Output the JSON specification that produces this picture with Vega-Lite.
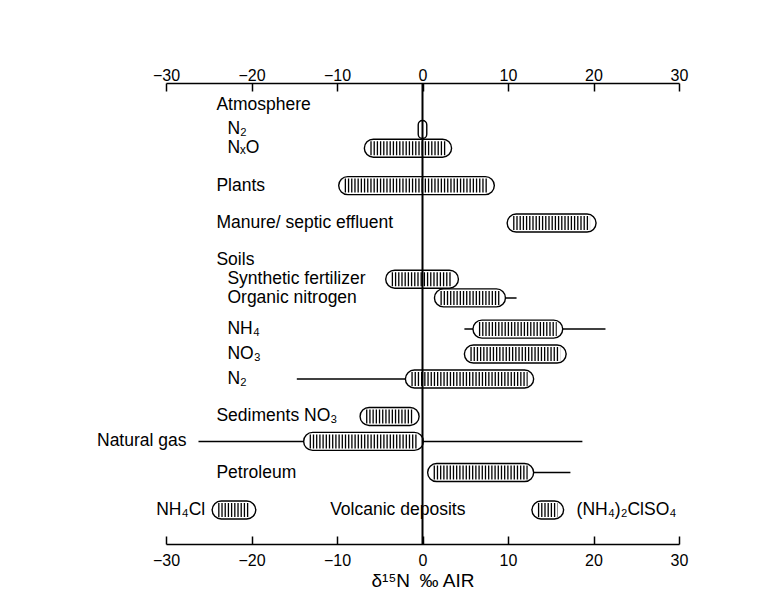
{
  "$schema": "https://vega.github.io/schema/vega-lite/v6.json",
  "width": 513,
  "height": 461,
  "autosize": {"type": "none"},
  "padding": {"left": 166, "top": 83, "right": 97, "bottom": 63},
  "background": "white",
  "config": {"view": {"stroke": null}, "font": "Liberation Sans"},
  "data": {
    "values": [
      {"row": "Atmosphere", "label": "Atmosphere"},
      {"row": "Atmosphere N₂", "label": "N₂", "group": "Atmosphere", "lo": -0.5, "hi": 0.5, "min": -0.5, "max": 0.5},
      {"row": "NₓO", "label": "NₓO", "group": "Atmosphere", "lo": -6.8, "hi": 3.4, "min": -6.8, "max": 3.4},
      {"row": "Plants", "label": "Plants", "lo": -9.8, "hi": 8.4, "min": -9.8, "max": 8.4},
      {"row": "Manure/ septic effluent", "label": "Manure/ septic effluent", "lo": 9.9, "hi": 20.3, "min": 9.9, "max": 20.3},
      {"row": "Soils", "label": "Soils"},
      {"row": "Synthetic fertilizer", "label": "Synthetic fertilizer", "group": "Soils", "lo": -4.3, "hi": 4.2, "min": -4.3, "max": 4.2},
      {"row": "Organic nitrogen", "label": "Organic nitrogen", "group": "Soils", "lo": 1.4, "hi": 9.7, "min": 1.4, "max": 11.0},
      {"row": "NH₄", "label": "NH₄", "group": "Soils", "lo": 5.9, "hi": 16.4, "min": 4.9, "max": 21.4},
      {"row": "NO₃", "label": "NO₃", "group": "Soils", "lo": 4.9, "hi": 16.8, "min": 4.9, "max": 16.8},
      {"row": "Soils N₂", "label": "N₂", "group": "Soils", "lo": -2.0, "hi": 13.0, "min": -14.7, "max": 13.0},
      {"row": "Sediments NO₃", "label": "Sediments NO₃", "lo": -7.3, "hi": -0.4, "min": -7.3, "max": -0.4},
      {"row": "Natural gas", "label": "Natural gas", "lo": -13.9, "hi": 0.1, "min": -26.2, "max": 18.7},
      {"row": "Petroleum", "label": "Petroleum", "lo": 0.6, "hi": 13.0, "min": 0.6, "max": 17.3},
      {"row": "Volcanic deposits", "label": "Volcanic deposits"},
      {"row": "Volcanic deposits", "label": "NH₄Cl", "group": "Volcanic deposits", "lo": -24.6, "hi": -19.5, "min": -24.6, "max": -19.5},
      {"row": "Volcanic deposits", "label": "(NH₄)₂ClSO₄", "group": "Volcanic deposits", "lo": 12.8, "hi": 16.5, "min": 12.8, "max": 16.5}
    ]
  },
  "resolve": {"axis": {"x": "independent"}},
  "layer": [
    {
      "transform": [{"filter": "isValid(datum.lo)"}],
      "mark": {"type": "rule", "strokeWidth": 1.5, "color": "black"},
      "encoding": {
        "x": {"field": "min", "type": "quantitative", "scale": {"domain": [-30, 30], "nice": false, "zero": false},
          "axis": {"orient": "top", "values": [-30, -20, -10, 0, 10, 20, 30], "title": null, "grid": false, "domainColor": "black", "domainWidth": 1.5, "tickColor": "black", "tickWidth": 1.5, "tickSize": -8, "labelPadding": 8, "labelFontSize": 16, "labelColor": "black", "labelFont": "Liberation Sans", "labelFlush": false, "labelOverlap": false, "labelBound": false}},
        "x2": {"field": "max"},
        "y": {"field": "row", "type": "nominal", "axis": null, "scale": {"type": "point", "padding": 0.45, "domain": ["_0","_1","_2","Atmosphere","_4","_5","_6","Atmosphere N₂","_8","_9","NₓO","_11","_12","_13","_14","_15","Plants","_17","_18","_19","_20","_21","Manure/ septic effluent","_23","_24","_25","_26","_27","Soils","_29","_30","Synthetic fertilizer","_32","_33","Organic nitrogen","_35","_36","_37","_38","NH₄","_40","_41","_42","NO₃","_44","_45","_46","Soils N₂","_48","_49","_50","_51","_52","Sediments NO₃","_54","_55","_56","Natural gas","_58","_59","_60","_61","Petroleum","_63","_64","_65","_66","_67","Volcanic deposits","_69","_70","_71","_72","_73"]}}
      }
    },
    {
      "transform": [{"filter": "isValid(datum.lo)"}],
      "mark": {"type": "bar", "height": 18, "cornerRadius": 9, "fill": "white", "stroke": "black", "strokeWidth": 1.4},
      "encoding": {
        "x": {"field": "lo", "type": "quantitative", "scale": {"domain": [-30, 30], "nice": false, "zero": false},
          "axis": {"orient": "bottom", "values": [-30, -20, -10, 0, 10, 20, 30], "title": "δ¹⁵N\u2002‰ AIR", "titleFontSize": 19, "titleFontWeight": "normal", "titleColor": "black", "titleFont": "Liberation Sans", "titlePadding": 3, "grid": false, "domainColor": "black", "domainWidth": 1.5, "tickColor": "black", "tickWidth": 1.5, "tickSize": -8, "labelPadding": 16.5, "labelFontSize": 16, "labelColor": "black", "labelFont": "Liberation Sans", "labelFlush": false, "labelOverlap": false, "labelBound": false}},
        "x2": {"field": "hi"},
        "y": {"field": "row", "type": "nominal", "axis": null, "scale": {"type": "point", "padding": 0.45, "domain": ["_0","_1","_2","Atmosphere","_4","_5","_6","Atmosphere N₂","_8","_9","NₓO","_11","_12","_13","_14","_15","Plants","_17","_18","_19","_20","_21","Manure/ septic effluent","_23","_24","_25","_26","_27","Soils","_29","_30","Synthetic fertilizer","_32","_33","Organic nitrogen","_35","_36","_37","_38","NH₄","_40","_41","_42","NO₃","_44","_45","_46","Soils N₂","_48","_49","_50","_51","_52","Sediments NO₃","_54","_55","_56","Natural gas","_58","_59","_60","_61","Petroleum","_63","_64","_65","_66","_67","Volcanic deposits","_69","_70","_71","_72","_73"]}}
      }
    },
    {
      "transform": [{"filter": "isValid(datum.lo) && datum.hi - datum.lo > 2"}],
      "mark": {"type": "rule", "strokeWidth": 14, "strokeDash": [1.3, 1.9], "xOffset": 6, "x2Offset": -6, "color": "black"},
      "encoding": {
        "x": {"field": "lo", "type": "quantitative", "scale": {"domain": [-30, 30], "nice": false, "zero": false}, "axis": null},
        "x2": {"field": "hi"},
        "y": {"field": "row", "type": "nominal", "axis": null, "scale": {"type": "point", "padding": 0.45, "domain": ["_0","_1","_2","Atmosphere","_4","_5","_6","Atmosphere N₂","_8","_9","NₓO","_11","_12","_13","_14","_15","Plants","_17","_18","_19","_20","_21","Manure/ septic effluent","_23","_24","_25","_26","_27","Soils","_29","_30","Synthetic fertilizer","_32","_33","Organic nitrogen","_35","_36","_37","_38","NH₄","_40","_41","_42","NO₃","_44","_45","_46","Soils N₂","_48","_49","_50","_51","_52","Sediments NO₃","_54","_55","_56","Natural gas","_58","_59","_60","_61","Petroleum","_63","_64","_65","_66","_67","Volcanic deposits","_69","_70","_71","_72","_73"]}}
      }
    },
    {
      "data": {"values": [{"zero": 0}]},
      "mark": {"type": "rule", "strokeWidth": 2, "color": "black"},
      "encoding": {
        "x": {"field": "zero", "type": "quantitative", "scale": {"domain": [-30, 30], "nice": false, "zero": false}, "axis": null}
      }
    },
    {
      "transform": [{"filter": "!datum.group && datum.row !== 'Volcanic deposits' && !(datum.min < -20)"}],
      "mark": {"type": "text", "align": "left", "baseline": "middle", "fontSize": 17.5, "font": "Liberation Sans", "color": "black"},
      "encoding": {
        "x": {"datum": -24.1, "type": "quantitative", "scale": {"domain": [-30, 30], "nice": false, "zero": false}, "axis": null},
        "y": {"field": "row", "type": "nominal", "axis": null, "scale": {"type": "point", "padding": 0.45, "domain": ["_0","_1","_2","Atmosphere","_4","_5","_6","Atmosphere N₂","_8","_9","NₓO","_11","_12","_13","_14","_15","Plants","_17","_18","_19","_20","_21","Manure/ septic effluent","_23","_24","_25","_26","_27","Soils","_29","_30","Synthetic fertilizer","_32","_33","Organic nitrogen","_35","_36","_37","_38","NH₄","_40","_41","_42","NO₃","_44","_45","_46","Soils N₂","_48","_49","_50","_51","_52","Sediments NO₃","_54","_55","_56","Natural gas","_58","_59","_60","_61","Petroleum","_63","_64","_65","_66","_67","Volcanic deposits","_69","_70","_71","_72","_73"]}},
        "text": {"field": "label"}
      }
    },
    {
      "transform": [{"filter": "datum.group === 'Atmosphere' || datum.group === 'Soils'"}],
      "mark": {"type": "text", "align": "left", "baseline": "middle", "dx": 11, "fontSize": 17.5, "font": "Liberation Sans", "color": "black"},
      "encoding": {
        "x": {"datum": -24.1, "type": "quantitative", "scale": {"domain": [-30, 30], "nice": false, "zero": false}, "axis": null},
        "y": {"field": "row", "type": "nominal", "axis": null, "scale": {"type": "point", "padding": 0.45, "domain": ["_0","_1","_2","Atmosphere","_4","_5","_6","Atmosphere N₂","_8","_9","NₓO","_11","_12","_13","_14","_15","Plants","_17","_18","_19","_20","_21","Manure/ septic effluent","_23","_24","_25","_26","_27","Soils","_29","_30","Synthetic fertilizer","_32","_33","Organic nitrogen","_35","_36","_37","_38","NH₄","_40","_41","_42","NO₃","_44","_45","_46","Soils N₂","_48","_49","_50","_51","_52","Sediments NO₃","_54","_55","_56","Natural gas","_58","_59","_60","_61","Petroleum","_63","_64","_65","_66","_67","Volcanic deposits","_69","_70","_71","_72","_73"]}},
        "text": {"field": "label"}
      }
    },
    {
      "transform": [{"filter": "!datum.group && datum.min < -20"}],
      "mark": {"type": "text", "align": "right", "baseline": "middle", "dx": -12, "fontSize": 17.5, "font": "Liberation Sans", "color": "black"},
      "encoding": {
        "x": {"field": "min", "type": "quantitative", "scale": {"domain": [-30, 30], "nice": false, "zero": false}, "axis": null},
        "y": {"field": "row", "type": "nominal", "axis": null, "scale": {"type": "point", "padding": 0.45, "domain": ["_0","_1","_2","Atmosphere","_4","_5","_6","Atmosphere N₂","_8","_9","NₓO","_11","_12","_13","_14","_15","Plants","_17","_18","_19","_20","_21","Manure/ septic effluent","_23","_24","_25","_26","_27","Soils","_29","_30","Synthetic fertilizer","_32","_33","Organic nitrogen","_35","_36","_37","_38","NH₄","_40","_41","_42","NO₃","_44","_45","_46","Soils N₂","_48","_49","_50","_51","_52","Sediments NO₃","_54","_55","_56","Natural gas","_58","_59","_60","_61","Petroleum","_63","_64","_65","_66","_67","Volcanic deposits","_69","_70","_71","_72","_73"]}},
        "text": {"field": "label"}
      }
    },
    {
      "transform": [{"filter": "!datum.group && datum.row === 'Volcanic deposits'"}],
      "mark": {"type": "text", "align": "left", "baseline": "middle", "fontSize": 17.5, "font": "Liberation Sans", "color": "black"},
      "encoding": {
        "x": {"datum": -10.8, "type": "quantitative", "scale": {"domain": [-30, 30], "nice": false, "zero": false}, "axis": null},
        "y": {"field": "row", "type": "nominal", "axis": null, "scale": {"type": "point", "padding": 0.45, "domain": ["_0","_1","_2","Atmosphere","_4","_5","_6","Atmosphere N₂","_8","_9","NₓO","_11","_12","_13","_14","_15","Plants","_17","_18","_19","_20","_21","Manure/ septic effluent","_23","_24","_25","_26","_27","Soils","_29","_30","Synthetic fertilizer","_32","_33","Organic nitrogen","_35","_36","_37","_38","NH₄","_40","_41","_42","NO₃","_44","_45","_46","Soils N₂","_48","_49","_50","_51","_52","Sediments NO₃","_54","_55","_56","Natural gas","_58","_59","_60","_61","Petroleum","_63","_64","_65","_66","_67","Volcanic deposits","_69","_70","_71","_72","_73"]}},
        "text": {"field": "label"}
      }
    },
    {
      "transform": [{"filter": "datum.group === 'Volcanic deposits' && datum.hi < 0"}],
      "mark": {"type": "text", "align": "right", "baseline": "middle", "dx": -7, "fontSize": 17.5, "font": "Liberation Sans", "color": "black"},
      "encoding": {
        "x": {"field": "lo", "type": "quantitative", "scale": {"domain": [-30, 30], "nice": false, "zero": false}, "axis": null},
        "y": {"field": "row", "type": "nominal", "axis": null, "scale": {"type": "point", "padding": 0.45, "domain": ["_0","_1","_2","Atmosphere","_4","_5","_6","Atmosphere N₂","_8","_9","NₓO","_11","_12","_13","_14","_15","Plants","_17","_18","_19","_20","_21","Manure/ septic effluent","_23","_24","_25","_26","_27","Soils","_29","_30","Synthetic fertilizer","_32","_33","Organic nitrogen","_35","_36","_37","_38","NH₄","_40","_41","_42","NO₃","_44","_45","_46","Soils N₂","_48","_49","_50","_51","_52","Sediments NO₃","_54","_55","_56","Natural gas","_58","_59","_60","_61","Petroleum","_63","_64","_65","_66","_67","Volcanic deposits","_69","_70","_71","_72","_73"]}},
        "text": {"field": "label"}
      }
    },
    {
      "transform": [{"filter": "datum.group === 'Volcanic deposits' && datum.lo > 0"}],
      "mark": {"type": "text", "align": "left", "baseline": "middle", "dx": 13, "fontSize": 17.5, "font": "Liberation Sans", "color": "black"},
      "encoding": {
        "x": {"field": "hi", "type": "quantitative", "scale": {"domain": [-30, 30], "nice": false, "zero": false}, "axis": null},
        "y": {"field": "row", "type": "nominal", "axis": null, "scale": {"type": "point", "padding": 0.45, "domain": ["_0","_1","_2","Atmosphere","_4","_5","_6","Atmosphere N₂","_8","_9","NₓO","_11","_12","_13","_14","_15","Plants","_17","_18","_19","_20","_21","Manure/ septic effluent","_23","_24","_25","_26","_27","Soils","_29","_30","Synthetic fertilizer","_32","_33","Organic nitrogen","_35","_36","_37","_38","NH₄","_40","_41","_42","NO₃","_44","_45","_46","Soils N₂","_48","_49","_50","_51","_52","Sediments NO₃","_54","_55","_56","Natural gas","_58","_59","_60","_61","Petroleum","_63","_64","_65","_66","_67","Volcanic deposits","_69","_70","_71","_72","_73"]}},
        "text": {"field": "label"}
      }
    }
  ]
}
